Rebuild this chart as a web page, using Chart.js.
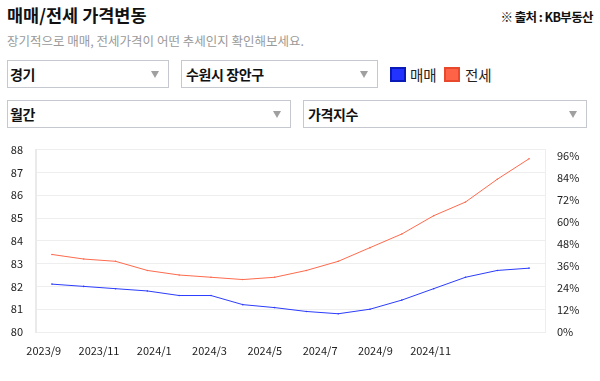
<!DOCTYPE html>
<html><head><meta charset="utf-8">
<script src="https://cdn.jsdelivr.net/npm/chart.js@4/dist/chart.umd.min.js"></script>
<style>
html,body{margin:0;padding:0;width:600px;height:381px;overflow:hidden;background:#fff;font-family:"Noto Sans CJK KR","Noto Sans",sans-serif;}
.t{position:absolute;white-space:nowrap;}
.box{position:absolute;box-sizing:border-box;border:1px solid #c6c8d0;background:#fff;height:28px;}
.box span{position:absolute;left:2px;top:3px;font-size:14px;font-weight:bold;color:#111;letter-spacing:-0.4px;}
.box i{position:absolute;right:9px;top:10px;width:0;height:0;border-left:4.5px solid transparent;border-right:4.5px solid transparent;border-top:7px solid #a0a0a0;}
.lg{position:absolute;width:12px;height:11px;border:2px solid;}
#wrap{position:absolute;left:0;top:130px;width:600px;height:240px;}
</style></head><body>
<div class="t" style="left:7px;top:2px;font-size:17.5px;font-weight:bold;color:#111;">매매/전세 가격변동</div>
<div class="t" style="right:7px;top:7px;font-size:12.5px;font-weight:bold;color:#111;letter-spacing:-0.6px;">※ 출처 : KB부동산</div>
<div class="t" style="left:7px;top:31px;font-size:12.5px;color:#9a9a9a;">장기적으로 매매, 전세가격이 어떤 추세인지 확인해보세요.</div>
<div class="box" style="left:7px;top:60px;width:162px;"><span>경기</span><i></i></div>
<div class="box" style="left:181px;top:60px;width:197px;"><span style="left:4px">수원시 장안구</span><i></i></div>
<div class="lg" style="left:390px;top:67px;background:#2233ff;border-color:#0a1ab8;"></div>
<div class="t" style="left:410px;top:64px;font-size:14.5px;color:#222;">매매</div>
<div class="lg" style="left:444px;top:67px;background:#ff6347;border-color:#e8482c;"></div>
<div class="t" style="left:465px;top:64px;font-size:14.5px;color:#222;">전세</div>
<div class="box" style="left:7px;top:100px;width:284px;"><span>월간</span><i></i></div>
<div class="box" style="left:303px;top:100px;width:284px;"><span style="left:4px">가격지수</span><i></i></div>
<div id="wrap"><canvas id="c"></canvas></div>
<script>
const months = ["2023/9","2023/10","2023/11","2023/12","2024/1","2024/2","2024/3","2024/4","2024/5","2024/6","2024/7","2024/8","2024/9","2024/10","2024/11","2024/12"];
const saleIndex = [82.1,82.0,81.9,81.8,81.6,81.6,81.2,81.07,80.9,80.8,81.0,81.4,81.9,82.4,82.7,82.8];
const jeonseIndex = [83.4,83.2,83.1,82.7,82.5,82.4,82.3,82.4,82.7,83.1,83.7,84.3,85.1,85.7,86.7,87.6];
const xTickLabels = ["2023/9","2023/11","2024/1","2024/3","2024/5","2024/7","2024/9","2024/11"];
const rightTicks = [0,12,24,36,48,60,72,84,96];

const tickFont = {family:"'Noto Sans CJK KR','Noto Sans',sans-serif", size:11};
new Chart(document.getElementById('c'), {
  type:'line',
  data:{labels:months, datasets:[
    {label:'매매', data:saleIndex, borderColor:'#2b3cff', backgroundColor:'#2b3cff', borderWidth:1, pointRadius:0.8, pointBorderWidth:0, pointHoverRadius:2, tension:0, yAxisID:'y', xAxisID:'x'},
    {label:'전세', data:jeonseIndex, borderColor:'#ff6a4d', backgroundColor:'#ff6a4d', borderWidth:1, pointRadius:0.8, pointBorderWidth:0, pointHoverRadius:2, tension:0, yAxisID:'y', xAxisID:'x'}
  ]},
  options:{
    responsive:true, maintainAspectRatio:false, animation:false,
    layout:{padding:{left:0,right:0,top:7,bottom:0}},
    plugins:{legend:{display:false}, tooltip:{enabled:false}},
    scales:{
      x:{type:'category', display:false, offset:true},
      x2:{type:'linear', position:'bottom', min:-0.14, max:9.07,
        grid:{display:false, drawTicks:false}, border:{display:false},
        afterBuildTicks:(s)=>{s.ticks = xTickLabels.map((_,i)=>({value:i}));},
        ticks:{color:'#222', font:tickFont, padding:12, maxRotation:0, autoSkip:false,
          callback:(v)=>xTickLabels[v]},
        afterFit:(s)=>{s.height=38;}
      },
      y:{position:'left', min:80, max:88,
        ticks:{stepSize:1, color:'#222', font:tickFont, padding:13},
        grid:{color:'#eeeeee', drawTicks:false, lineWidth:1},
        border:{display:true, color:'#eaeaea', width:2},
        afterFit:(s)=>{s.width=36;}
      },
      y2:{position:'right', min:0, max:99.6,
        afterBuildTicks:(s)=>{s.ticks = rightTicks.map(v=>({value:v}));},
        ticks:{color:'#222', font:tickFont, padding:12, callback:(v)=>v+'%'},
        grid:{display:false, drawTicks:false},
        border:{display:true, color:'#eeeeee', width:1},
        afterFit:(s)=>{s.width=55;}
      }
    }
  }
});
</script>
</body></html>
